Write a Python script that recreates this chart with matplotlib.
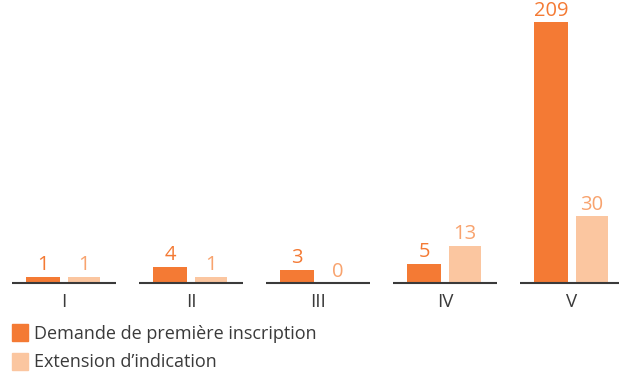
import numpy as np
import matplotlib
matplotlib.use('Agg')
import matplotlib.pyplot as plt
from matplotlib.patches import Patch

groups = ['I', 'II', 'III', 'IV', 'V']
premiere = [1, 4, 3, 5, 209]
extension = [1, 1, 0, 13, 30]
series_labels = ['Demande de première inscription', 'Extension d’indication']

dark = '#F47A34'
light = '#FBC6A0'
dark_txt = '#F47A34'
light_txt = '#F8A36E'
grey = '#3a3a3a'

plt.rcParams['font.family'] = ['Open Sans', 'DejaVu Sans']

fig = plt.figure(figsize=(6.19, 3.76), dpi=100)
ax = fig.add_axes([0, 93 / 376, 1, 283 / 376])

# echelle non lineaire (puissance) comme dans l'original
p = 0.7
ax.set_yscale('function', functions=(lambda v: np.power(np.maximum(v, 0), p),
                                     lambda v: np.power(np.maximum(v, 0), 1 / p)))

x = np.arange(len(groups))
ax.bar(x - 0.165, premiere, width=0.268, color=dark)
ax.bar(x + 0.155, extension, width=0.252, color=light)

# ligne de base separee pour chaque groupe
ax.hlines([0] * len(x), x - 0.41, x + 0.41, color=grey, lw=1.5, clip_on=False)

for xi, v in zip(x, premiere):
    ax.annotate(str(v), (xi - 0.165, v), xytext=(0, 1), textcoords='offset points',
                ha='center', va='bottom', color=dark_txt, fontsize=14.5, clip_on=False)
for xi, v in zip(x, extension):
    ax.annotate(str(v), (xi + 0.155, v), xytext=(0, 1), textcoords='offset points',
                ha='center', va='bottom', color=light_txt, fontsize=14.5, clip_on=False)

ax.set_xlim(-64 / 127, (619 - 64) / 127)
ax.set_ylim(0, 235)
ax.set_xticks(x)
ax.set_xticklabels(groups, fontsize=13.5, color=grey)
ax.tick_params(axis='x', length=0, pad=7)
ax.set_yticks([])
for s in ax.spines.values():
    s.set_visible(False)

handles = [Patch(color=dark), Patch(color=light)]
fig.legend(handles, series_labels, loc='upper left', bbox_to_anchor=(0.019, 0.137),
           frameon=False, fontsize=13, handlelength=0.9, handleheight=1.05,
           handletextpad=0.35, labelspacing=0.55, borderaxespad=0, borderpad=0,
           labelcolor=grey)

fig.savefig('out.png', dpi=100)
